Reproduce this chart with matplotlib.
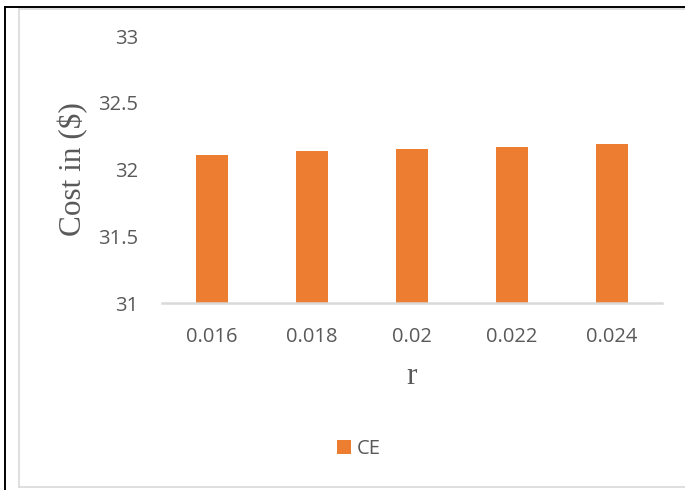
import matplotlib
matplotlib.use("Agg")
import matplotlib.pyplot as plt
from matplotlib.lines import Line2D
from matplotlib.patches import Patch

# Data
r_values = ["0.016", "0.018", "0.02", "0.022", "0.024"]
cost_ce = [32.11, 32.14, 32.15, 32.17, 32.19]
y_ticks = [31, 31.5, 32, 32.5, 33]
y_tick_labels = ["31", "31.5", "32", "32.5", "33"]

W, H = 685, 490
fig = plt.figure(figsize=(W / 100, H / 100), dpi=100)
fig.patch.set_facecolor("white")

text_color = "#595959"
grid_grey = "#d9d9d9"
bar_color = "#ED7D31"
sans = ["Open Sans", "DejaVu Sans"]
serif = ["Liberation Serif", "DejaVu Serif"]

# outer black frame (top and left edges)
fig.add_artist(Line2D([4.5 / W, 1], [1 - 7 / H, 1 - 7 / H], color="black", lw=1.4))
fig.add_artist(Line2D([4.5 / W, 4.5 / W], [0, 1 - 7 / H], color="black", lw=1.4))
# inner chart-area border
fig.add_artist(Line2D([19 / W, 1], [1 - 9.5 / H, 1 - 9.5 / H], color=grid_grey, lw=1.2))
fig.add_artist(Line2D([19 / W, 19 / W], [1 - 487 / H, 1 - 9.5 / H], color=grid_grey, lw=1.2))
fig.add_artist(Line2D([19 / W, 1], [1 - 487 / H, 1 - 487 / H], color=grid_grey, lw=1.2))

left, right = 162 / W, 662 / W
bottom, top = 1 - 303 / H, 1 - 36 / H
ax = fig.add_axes([left, bottom, right - left, top - bottom])

x = list(range(len(r_values)))
ax.bar(x, cost_ce, width=0.32, color=bar_color, bottom=0, zorder=2)

ax.set_xlim(-0.5, len(r_values) - 0.5)
ax.set_ylim(31, 33)
ax.set_yticks(y_ticks)
ax.set_yticklabels(y_tick_labels, fontfamily=sans, fontsize=14.5, color=text_color)
ax.set_xticks(x)
ax.set_xticklabels(r_values, fontfamily=sans, fontsize=14.5, color=text_color)
ax.tick_params(axis="both", length=0)
ax.tick_params(axis="y", pad=17)
ax.tick_params(axis="x", pad=17)

for s in ["top", "right", "left"]:
    ax.spines[s].set_visible(False)
ax.spines["bottom"].set_color(grid_grey)
ax.spines["bottom"].set_linewidth(1.8)
ax.spines["bottom"].set_zorder(3)

ax.set_ylabel("Cost in ($)", fontfamily=serif, fontsize=22.5, color=text_color)
ax.yaxis.set_label_coords((88 - 162) / 500, 0.5)
ax.set_xlabel("r", fontfamily=serif, fontsize=22.5, color=text_color)
ax.xaxis.set_label_coords(0.5, -(362 - 303) / 267)

handles = [Patch(facecolor=bar_color, edgecolor="none", label="CE")]
leg = fig.legend(handles=handles, loc="center", bbox_to_anchor=(359 / W, 1 - 449 / H),
                 frameon=False, prop={"family": sans, "size": 14.5},
                 handlelength=0.65, handleheight=0.65, handletextpad=0.3)
for t in leg.get_texts():
    t.set_color(text_color)

fig.savefig("out.png", dpi=100)
